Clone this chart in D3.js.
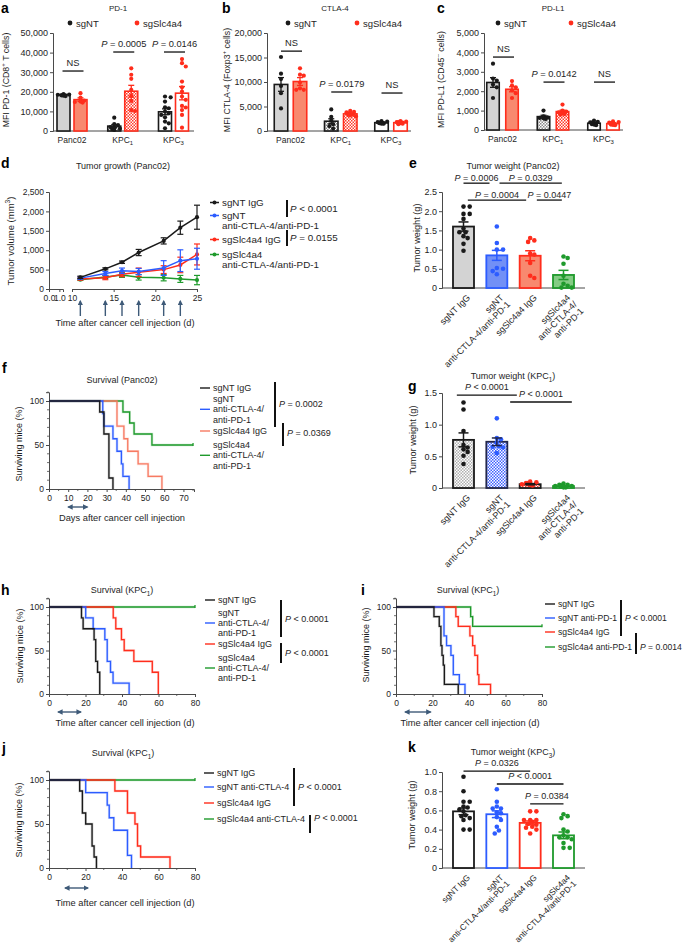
<!DOCTYPE html>
<html><head><meta charset="utf-8">
<script src="https://cdn.jsdelivr.net/npm/d3@7/dist/d3.min.js"></script>
<style>html,body{margin:0;padding:0;background:#fff}</style>
</head><body>
<svg id="fig" width="685" height="947" xmlns="http://www.w3.org/2000/svg"></svg>
<script>
// ================= DATA =================
const abcGroups = ["Panc02", "KPC1", "KPC3"];
const abcGroupLabels = ["Panc02", "KPC_{1}", "KPC_{3}"];
const seriesNames = ["sgNT", "sgSlc4a4"];

// a: PD-1
const a_ticks = [0, 10000, 20000, 30000, 40000, 50000];
const a_sgNT_mean = [18500, 2500, 9800];
const a_sgNT_sem = [400, 800, 1500];
const a_sgSlc_mean = [16000, 20300, 19300];
const a_sgSlc_sem = [900, 3000, 3400];
const a_sgNT_dots = [[18800, 18500, 18200, 17800, 18000, 18600], [6800, 3500, 3000, 2000, 1800, 1200, 1000, 500], [17600, 17200, 15000, 12100, 11600, 9900, 9000, 8200, 7000, 4800, 3900, 1400]];
const a_sgSlc_dots = [[19300, 17000, 15500, 15000, 14800, 14500], [32000, 28700, 26600, 21000, 17900, 15400, 10700, 10200], [36700, 34600, 32900, 25200, 22300, 20100, 17600, 15900, 12800, 12000, 10700, 8200, 1700]];
const a_sigText = ["NS", "*P* = 0.0005", "*P* = 0.0146"];
const a_sigLevel = [30600, 40300, 40300];

// b: CTLA-4
const b_ticks = [0, 5000, 10000, 15000, 20000];
const b_sgNT_mean = [9500, 2000, 1700];
const b_sgNT_sem = [1400, 500, 80];
const b_sgSlc_mean = [10100, 3500, 1700];
const b_sgSlc_sem = [800, 150, 80];
const b_sgNT_dots = [[15100, 11700, 10600, 9200, 7700, 4600], [4400, 2900, 2100, 1400, 1000, 500], [2000, 1900, 1800, 1700, 1700, 1600, 1500, 1500, 1600]];
const b_sgSlc_dots = [[12800, 11500, 11300, 9900, 8700, 8400, 8400], [4100, 3900, 3800, 3600, 3500, 3400, 3300, 3200, 3000], [2000, 1900, 1800, 1800, 1700, 1700, 1600, 1600, 1500, 1400]];
const b_sigText = ["NS", "*P* = 0.0179", "NS"];
const b_sigLevel = [16300, 7960, 7750];

// c: PD-L1
const c_ticks = [0, 1000, 2000, 3000, 4000, 5000];
const c_sgNT_mean = [2450, 690, 350];
const c_sgNT_sem = [250, 70, 25];
const c_sgSlc_mean = [2100, 950, 330];
const c_sgSlc_sem = [130, 70, 25];
const c_sgNT_dots = [[3420, 2650, 2550, 2340, 2200, 1650], [1000, 700, 650, 620, 600, 570], [480, 420, 400, 380, 350, 320, 300, 280, 250]];
const c_sgSlc_dots = [[2520, 2300, 2200, 2050, 1900, 1650], [1310, 1000, 950, 910, 860, 820, 790], [440, 410, 380, 350, 330, 300, 280, 260, 250]];
const c_sigText = ["NS", "*P* = 0.0142", "NS"];
const c_sigLevel = [3760, 2470, 2470];

// d: tumor growth
const d_days = [11, 14, 16, 18, 21, 23, 25];
const d_treatDays = [11, 14, 16, 18, 21, 23];
const d_yTicks = [0, 500, 1000, 1500, 2000, 2500];
const d_sgNT_IgG = [300, 520, 690, 940, 1240, 1580, 1850];
const d_sgNT_IgG_sem = [30, 25, 30, 80, 80, 170, 310];
const d_sgNT_aCP = [280, 400, 470, 450, 540, 730, 780];
const d_sgNT_aCP_sem = [30, 50, 70, 80, 190, 280, 270];
const d_sgSlc_IgG = [260, 290, 380, 430, 500, 620, 890];
const d_sgSlc_IgG_sem = [30, 50, 60, 110, 100, 200, 270];
const d_sgSlc_aCP = [240, 310, 360, 300, 290, 260, 230];
const d_sgSlc_aCP_sem = [20, 40, 60, 70, 80, 90, 120];

// e: tumor weight Panc02
const quadGroups = ["sgNT IgG", "sgNT\nanti-CTLA-4/anti-PD-1", "sgSlc4a4 IgG", "sgSlc4a4\nanti-CTLA-4/\nanti-PD-1"];
const kGroups = ["sgNT IgG", "sgNT\nanti-CTLA-4/anti-PD-1", "sgSlc4a4 IgG", "sgSlc4a4\nanti-CTLA-4/anti-PD-1"];
const e_ticks = [0, 0.5, 1.0, 1.5, 2.0, 2.5];
const e_mean = [1.6, 0.85, 0.84, 0.34];
const e_sem = [0.12, 0.13, 0.13, 0.12];
const e_dots = [[2.12, 2.12, 1.93, 1.93, 1.8, 1.55, 1.45, 1.45, 1.35, 1.3, 1.15, 0.97], [1.6, 1.17, 1.0, 1.0, 0.52, 0.5, 0.44, 0.36], [1.3, 1.24, 1.2, 0.9, 0.87, 0.65, 0.32, 0.26], [0.82, 0.78, 0.63, 0.32, 0.11, 0.06, 0.01, 0.01]];
const e_sig = [["*P* = 0.0006", 0.0, 0.78, 2.73], ["*P* = 0.0329", 1.08, 2.95, 2.73], ["*P* = 0.0004", 0.13, 1.88, 2.29], ["*P* = 0.0447", 2.2, 2.95, 2.29]];

// g: tumor weight KPC1
const g_ticks = [0, 0.5, 1.0, 1.5];
const g_mean = [0.76, 0.73, 0.06, 0.03];
const g_sem = [0.11, 0.06, 0.01, 0.01];
const g_dots = [[1.35, 1.24, 0.9, 0.68, 0.64, 0.61, 0.57, 0.51, 0.38], [1.1, 0.79, 0.77, 0.72, 0.66, 0.65, 0.64, 0.55], [0.1, 0.09, 0.08, 0.08, 0.07, 0.06, 0.06, 0.05, 0.04], [0.07, 0.05, 0.05, 0.04, 0.03, 0.03, 0.02, 0.01, 0.01]];
const g_sig = [["*P* < 0.0001", -0.2, 1.6, 1.468], ["*P* < 0.0001", 1.4, 3.25, 1.358]];

// k: tumor weight KPC3
const k_ticks = [0, 0.2, 0.4, 0.6, 0.8, 1.0];
const k_mean = [0.59, 0.56, 0.47, 0.34];
const k_sem = [0.035, 0.035, 0.02, 0.035];
const k_dots = [[0.95, 0.8, 0.69, 0.69, 0.64, 0.63, 0.61, 0.59, 0.55, 0.54, 0.52, 0.5, 0.4, 0.4], [0.82, 0.69, 0.64, 0.62, 0.62, 0.58, 0.57, 0.53, 0.5, 0.43, 0.39, 0.36], [0.59, 0.59, 0.5, 0.5, 0.5, 0.48, 0.46, 0.45, 0.43, 0.42, 0.4, 0.36], [0.56, 0.54, 0.52, 0.4, 0.38, 0.34, 0.32, 0.32, 0.3, 0.26, 0.21, 0.21]];
const k_sig = [["*P* = 0.0326", 0, 2, 1.01], ["*P* < 0.0001", 1, 3, 0.875], ["*P* = 0.0384", 2, 3, 0.667]];

// survival curves [day, % surviving]
const f_sgNT_IgG = [[0, 100], [26.4, 87.5], [28.6, 62.5], [31.2, 12.5], [33.3, 0]];
const f_sgNT_aCP = [[0, 100], [28, 85.7], [28.6, 71.4], [33.3, 57.1], [35.4, 42.9], [37.7, 28.6], [38.5, 14.3], [41.7, 0]];
const f_sgSlc_IgG = [[0, 100], [35.4, 71.4], [39, 57.1], [41, 42.9], [46.4, 28.6], [51.6, 14.3], [58.8, 0]];
const f_sgSlc_aCP = [[0, 100], [38.5, 87.5], [42, 75], [44.3, 62.5], [53.6, 50], [75, 50]];

const h_sgNT_IgG = [[0, 100], [17.8, 87.5], [18.7, 75], [24.7, 62.5], [25.6, 37.5], [26.6, 25], [27.8, 0]];
const h_sgNT_aCP = [[0, 100], [20.1, 87.5], [24.2, 75], [30.6, 62.5], [31.9, 37.5], [33.7, 25], [35.1, 12.5], [43.9, 0]];
const h_sgSlc_IgG = [[0, 100], [35.2, 87.5], [36.6, 75], [39.7, 62.5], [41.2, 50], [46.5, 37.5], [56.6, 25], [59.9, 0]];
const h_sgSlc_aCP = [[0, 100], [80, 100]];

const i_sgNT_IgG = [[0, 100], [20.8, 88.9], [23.7, 77.8], [24.6, 55.6], [25.2, 44.4], [25.9, 33.3], [26.5, 11.1], [34.1, 0]];
const i_sgNT_aPD1 = [[0, 100], [26.3, 66.7], [27.7, 55.6], [30.1, 44.4], [31.4, 22.2], [34.7, 11.1], [37.8, 0]];
const i_sgSlc_IgG = [[0, 100], [32.8, 88.9], [34.1, 77.8], [40.5, 66.7], [42, 55.6], [43.2, 44.4], [44.7, 22.2], [45.4, 11.1], [51.8, 0]];
const i_sgSlc_aPD1 = [[0, 100], [40.9, 88.9], [42, 77.8], [80, 77.8]];

const j_sgNT_IgG = [[0, 100], [16.8, 87.5], [18.3, 62.5], [20.1, 50], [23.6, 25], [24.7, 12.5], [26, 0]];
const j_sgNT_aCTLA4 = [[0, 100], [20.1, 85.7], [31.9, 71.4], [33, 57.1], [35.5, 42.9], [43, 14.3], [45.2, 0]];
const j_sgSlc_IgG = [[0, 100], [36.1, 87.5], [43, 62.5], [47.1, 50], [48.5, 25], [50.2, 12.5], [66.3, 0]];
const j_sgSlc_aCTLA4 = [[0, 100], [80, 100]];

// ================= DRAWING =================
const FONT = "'Liberation Sans', Arial, Helvetica, sans-serif";
const TXT = "#1e1e1e", AX = "#4a4a4a";
const COL = { black: "#1a1a1a", red: "#ff2d1c", blue: "#2c5cff", green: "#1f9a2c", grey: "#d3d3d3", salmon: "#f8896f", blueFill: "#7290f6", greenFill: "#84cc84", salmonLine: "#f77a62", arrow: "#3e5a78" };
const svg = d3.select("#fig").attr("font-family", FONT);
const defs = svg.append("defs");
function checker(id, color, s) {
  const p = defs.append("pattern").attr("id", id).attr("width", s).attr("height", s).attr("patternUnits", "userSpaceOnUse");
  p.append("rect").attr("width", s).attr("height", s).attr("fill", "#fff");
  p.append("rect").attr("width", s / 2).attr("height", s / 2).attr("fill", color);
  p.append("rect").attr("x", s / 2).attr("y", s / 2).attr("width", s / 2).attr("height", s / 2).attr("fill", color);
}
checker("chkGrey", "#8c8c8c", 3);
checker("chkRed", "#ff3b2b", 3);
checker("chkBlue", "#3f62ff", 3);
checker("chkGreyL", "#b0b0b0", 3);
defs.append("marker").attr("id", "ah").attr("viewBox", "0 0 10 10").attr("refX", 8).attr("refY", 5)
  .attr("markerWidth", 4).attr("markerHeight", 4).attr("orient", "auto-start-reverse")
  .append("path").attr("d", "M0,0L10,5L0,10z").attr("fill", COL.arrow);

function rich(t, s, size) {
  const parts = s.split(/(\^\{[^}]*\}|_\{[^}]*\}|\*[^*]+\*)/).filter(p => p !== "");
  let shift = 0;
  parts.forEach(p => {
    let text = p, target = 0, fs = null, it = false;
    if (p.startsWith("^{")) { text = p.slice(2, -1); target = -size * 0.4; fs = size * 0.7; }
    else if (p.startsWith("_{")) { text = p.slice(2, -1); target = size * 0.28; fs = size * 0.7; }
    else if (p.length > 2 && p.startsWith("*") && p.endsWith("*")) { text = p.slice(1, -1); it = true; }
    const ts = t.append("tspan");
    if (target - shift !== 0) ts.attr("dy", target - shift);
    shift = target;
    if (fs) ts.attr("font-size", fs);
    if (it) ts.attr("font-style", "italic");
    ts.text(text);
  });
}
function label(parent, x, y, s, o = {}) {
  const size = o.size || 9;
  const t = parent.append("text").attr("x", x).attr("y", y).attr("font-size", size)
    .attr("fill", o.fill || TXT).attr("text-anchor", o.anchor || "start");
  if (o.weight) t.attr("font-weight", o.weight);
  if (o.rotate) t.attr("transform", `rotate(${o.rotate},${x},${y})`);
  rich(t, s, size);
  return t;
}
function styleAxis(a, fs) {
  a.attr("font-family", FONT);
  a.selectAll("path.domain").attr("stroke", AX).attr("stroke-width", 1);
  a.selectAll(".tick line").attr("stroke", AX).attr("stroke-width", 1);
  a.selectAll(".tick text").attr("font-size", fs).attr("fill", TXT);
}
function yAxis(g, scale, x, ticks, fmt, fs, size = 3) {
  const a = g.append("g").attr("transform", `translate(${x},0)`)
    .call(d3.axisLeft(scale).tickValues(ticks).tickFormat(fmt).tickSizeOuter(0).tickSize(size).tickPadding(2));
  styleAxis(a, fs);
  return a;
}
function hline(g, x1, x2, y, color = AX, w = 1) {
  g.append("line").attr("x1", x1).attr("x2", x2).attr("y1", y).attr("y2", y).attr("stroke", color).attr("stroke-width", w);
}
function vline(g, x, y1, y2, color = "#111", w = 2) {
  g.append("line").attr("x1", x).attr("x2", x).attr("y1", y1).attr("y2", y2).attr("stroke", color).attr("stroke-width", w);
}
function errBar(g, cx, yLo, yHi, cap, color, w = 1.3) {
  vline(g, cx, yLo, yHi, color, w);
  hline(g, cx - cap / 2, cx + cap / 2, yLo, color, w);
  hline(g, cx - cap / 2, cx + cap / 2, yHi, color, w);
}
function swarm(vals, cx, yScale, r, maxOff) {
  const pts = vals.map(v => ({ v, y: yScale(v) })).sort((a, b) => a.y - b.y);
  const placed = [];
  pts.forEach(p => {
    let bx = null;
    for (let k = 0; k < 30; k++) {
      const off = k === 0 ? 0 : (k % 2 ? 1 : -1) * Math.ceil(k / 2) * r * 0.9;
      if (Math.abs(off) > maxOff) continue;
      const xx = cx + off;
      if (placed.every(q => Math.hypot(q.x - xx, q.y - p.y) >= 2 * r * 0.92)) { bx = xx; break; }
    }
    if (bx === null) bx = cx + ((placed.length % 3) - 1) * r;
    p.x = bx; placed.push(p);
  });
  return pts;
}
const fmtComma = d3.format(",");
const fmtDec = v => v === 0 ? "0" : d3.format(".1f")(v);

// ---------- panel letters ----------
[["a", 1, 13], ["b", 222, 13], ["c", 437, 13], ["d", 1, 168], ["e", 409, 168], ["f", 2, 373], ["g", 408, 391],
 ["h", 1, 595], ["i", 361, 595], ["j", 2, 753], ["k", 408, 752]].forEach(([t, x, y]) =>
  svg.append("text").attr("x", x).attr("y", y).attr("font-size", 14).attr("font-weight", "bold").attr("fill", "#000").text(t));

// ---------- a, b, c ----------
function pairPanel(c) {
  const g = svg.append("g");
  const y = d3.scaleLinear().domain([0, c.max]).range([c.y0, c.yTop]);
  const x = d3.scalePoint().domain(abcGroups).range(c.centers);
  yAxis(g, y, c.x0, c.ticks, fmtComma, 9);
  hline(g, c.x0, c.x1, c.y0);
  abcGroups.forEach((k, i) => label(g, x(k), c.y0 + 12, abcGroupLabels[i], { anchor: "middle", size: 8.5 }));
  label(g, c.titleX, 11, c.title, { anchor: "middle", size: 8 });
  [[c.leg[0], COL.black, seriesNames[0]], [c.leg[1], COL.red, seriesNames[1]]].forEach(([lx, col, nm]) => {
    g.append("circle").attr("cx", lx).attr("cy", 23).attr("r", 2.4).attr("fill", col);
    label(g, lx + 6, 26.5, nm, { size: 9.5 });
  });
  label(g, c.ylabX, (c.y0 + c.yTop) / 2 - 2, c.ylab, { anchor: "middle", rotate: -90, size: 8.8 });
  c.series.forEach((s, si) => {
    const off = si === 0 ? -c.off : c.off;
    abcGroups.forEach((k, i) => {
      const cx = x(k) + off, m = s.mean[i];
      g.append("rect").attr("x", cx - c.bw / 2).attr("width", c.bw).attr("y", y(m)).attr("height", y(0) - y(m))
        .attr("fill", s.fills[i]).attr("stroke", s.stroke).attr("stroke-width", 1.6);
      swarm(s.dots[i], cx, y, 2.1, c.bw / 2).forEach(p =>
        g.append("circle").attr("cx", p.x).attr("cy", p.y).attr("r", 2.1).attr("fill", s.dot));
      errBar(g, cx, y(m - s.sem[i]), y(m + s.sem[i]), 6, s.stroke, 1.3);
    });
  });
  abcGroups.forEach((k, i) => {
    const ly = y(c.sigLevel[i]), cx = x(k) + 1;
    hline(g, cx - 10.5, cx + 10.5, ly, "#111", 1.3);
    label(g, cx, ly - 5, c.sigText[i], { anchor: "middle", size: 9.3 });
  });
}
pairPanel({
  x0: 53, x1: 194, y0: 131, yTop: 33, max: 50000, ticks: a_ticks, centers: [72, 173.5], off: 8.5, bw: 13,
  title: "PD-1", titleX: 118, leg: [70, 137], ylab: "MFI PD-1 (CD8^{+} T cells)", ylabX: 9,
  sigText: a_sigText, sigLevel: a_sigLevel,
  series: [
    { mean: a_sgNT_mean, sem: a_sgNT_sem, dots: a_sgNT_dots, fills: [COL.grey, "url(#chkGrey)", "#fff"], stroke: COL.black, dot: COL.black },
    { mean: a_sgSlc_mean, sem: a_sgSlc_sem, dots: a_sgSlc_dots, fills: [COL.salmon, "url(#chkRed)", "#fff"], stroke: COL.red, dot: COL.red }]
});
pairPanel({
  x0: 267, x1: 411, y0: 131, yTop: 33, max: 20000, ticks: b_ticks, centers: [290.5, 391], off: 9.5, bw: 13.5,
  title: "CTLA-4", titleX: 335, leg: [288, 357], ylab: "MFI CTLA-4 (Foxp3^{+} cells)", ylabX: 230,
  sigText: b_sigText, sigLevel: b_sigLevel,
  series: [
    { mean: b_sgNT_mean, sem: b_sgNT_sem, dots: b_sgNT_dots, fills: [COL.grey, "url(#chkGrey)", "#fff"], stroke: COL.black, dot: COL.black },
    { mean: b_sgSlc_mean, sem: b_sgSlc_sem, dots: b_sgSlc_dots, fills: [COL.salmon, "url(#chkRed)", "#fff"], stroke: COL.red, dot: COL.red }]
});
pairPanel({
  x0: 484, x1: 623, y0: 130, yTop: 33, max: 5000, ticks: c_ticks, centers: [502.5, 603.5], off: 9.5, bw: 12.5,
  title: "PD-L1", titleX: 553, leg: [498, 571], ylab: "MFI PD-L1 (CD45^{–} cells)", ylabX: 444,
  sigText: c_sigText, sigLevel: c_sigLevel,
  series: [
    { mean: c_sgNT_mean, sem: c_sgNT_sem, dots: c_sgNT_dots, fills: [COL.grey, "url(#chkGrey)", "#fff"], stroke: COL.black, dot: COL.black },
    { mean: c_sgSlc_mean, sem: c_sgSlc_sem, dots: c_sgSlc_dots, fills: [COL.salmon, "url(#chkRed)", "#fff"], stroke: COL.red, dot: COL.red }]
});

// ---------- d ----------
(function () {
  const g = svg.append("g");
  const y = d3.scaleLinear().domain([0, 2500]).range([289, 192]);
  const x1 = d3.scaleLinear().domain([0, 1.35]).range([49, 63]);
  const x2 = d3.scaleLinear().domain([10, 25]).range([72, 197]);
  yAxis(g, y, 49, d_yTicks, fmtComma, 8.5);
  const a1 = g.append("g").attr("transform", "translate(0,289)").call(d3.axisBottom(x1).tickValues([0, 1]).tickSizeOuter(0).tickSize(3).tickPadding(3));
  styleAxis(a1, 8.5);
  const a2 = g.append("g").attr("transform", "translate(0,289)").call(d3.axisBottom(x2).tickValues([10, 15, 20, 25]).tickSizeOuter(0).tickSize(3).tickPadding(3));
  styleAxis(a2, 8.5);
  label(g, 123, 169, "Tumor growth (Panc02)", { anchor: "middle", size: 9 });
  label(g, 14, 241, "Tumor volume (mm^{3})", { anchor: "middle", rotate: -90, size: 9.5 });
  label(g, 125, 326, "Time after cancer cell injection (d)", { anchor: "middle", size: 9.3 });
  d_treatDays.forEach(dd => g.append("line").attr("x1", x2(dd)).attr("x2", x2(dd)).attr("y1", 316).attr("y2", 301)
    .attr("stroke", COL.arrow).attr("stroke-width", 1.4).attr("marker-end", "url(#ah)"));
  const series = [
    [d_sgSlc_aCP, d_sgSlc_aCP_sem, COL.green],
    [d_sgSlc_IgG, d_sgSlc_IgG_sem, COL.red],
    [d_sgNT_aCP, d_sgNT_aCP_sem, COL.blue],
    [d_sgNT_IgG, d_sgNT_IgG_sem, COL.black]];
  const line = d3.line().x((d, i) => x2(d_days[i])).y(d => y(d));
  series.forEach(([vals, sems, col]) => {
    g.append("path").attr("d", line(vals)).attr("fill", "none").attr("stroke", col).attr("stroke-width", 1.5);
    vals.forEach((v, i) => {
      errBar(g, x2(d_days[i]), y(v - sems[i]), y(v + sems[i]), 6, col, 1.2);
      g.append("circle").attr("cx", x2(d_days[i])).attr("cy", y(v)).attr("r", 2.1).attr("fill", col);
    });
  });
  const leg = [[206, COL.black, ["sgNT IgG"]], [219, COL.blue, ["sgNT", "anti-CTLA-4/anti-PD-1"]],
               [243, COL.red, ["sgSlc4a4 IgG"]], [258, COL.green, ["sgSlc4a4", "anti-CTLA-4/anti-PD-1"]]];
  leg.forEach(([by, col, lines]) => {
    hline(g, 210, 219, by - 3.5, col, 1.5);
    g.append("circle").attr("cx", 214.5).attr("cy", by - 3.5).attr("r", 2).attr("fill", col);
    lines.forEach((t, i) => label(g, 222, by + i * 10, t, { size: 9.8 }));
  });
  vline(g, 287, 200, 217, "#111", 2);
  label(g, 290, 212, "*P* < 0.0001", { size: 9.8 });
  vline(g, 287, 230, 246, "#111", 2);
  label(g, 290, 241, "*P* = 0.0155", { size: 9.8 });
})();

// ---------- e, g, k ----------
function quadPanel(c) {
  const g = svg.append("g");
  const y = d3.scaleLinear().domain([0, c.max]).range([c.y0, c.yTop]);
  const x = d3.scalePoint().domain(c.groups).range([463.5, 563.5]);
  const xf = d3.scaleLinear().domain([0, 3]).range([463.5, 563.5]);
  yAxis(g, y, 442, c.ticks, fmtDec, 9);
  hline(g, 442, 585, c.y0);
  label(g, 513, c.titleY, c.title, { anchor: "middle", size: 9 });
  label(g, c.ylabX, c.ylabY, "Tumor weight (g)", { anchor: "middle", rotate: -90, size: 9.2 });
  c.groups.forEach((k, i) => {
    const cx = x(k), m = c.mean[i];
    g.append("rect").attr("x", cx - 10.5).attr("width", 21).attr("y", y(m)).attr("height", y(0) - y(m))
      .attr("fill", c.fills[i]).attr("stroke", c.strokes[i]).attr("stroke-width", 1.8);
    swarm(c.dots[i], cx, y, 2.3, 9).forEach(p =>
      g.append("circle").attr("cx", p.x).attr("cy", p.y).attr("r", 2.3).attr("fill", c.dotCols[i]));
    errBar(g, cx, y(m - c.sem[i]), y(m + c.sem[i]), 10, c.errCols[i], 1.5);
    const lines = k.split("\n");
    const lg = g.append("g").attr("transform", `translate(${cx + 5},${c.y0 + 8}) rotate(-45)`);
    lines.forEach((ln, li) => lg.append("text").attr("x", 0).attr("y", li * c.labLH).attr("dy", "0.35em")
      .attr("text-anchor", "end").attr("font-size", c.labFs).attr("fill", TXT).text(ln));
  });
  c.sig.forEach(([t, a, b, lv]) => {
    const ly = y(lv);
    hline(g, xf(a), xf(b), ly, "#111", 1.3);
    label(g, (xf(a) + xf(b)) / 2, ly - c.sigOff, t, { anchor: "middle", size: 9 });
  });
}
quadPanel({
  groups: quadGroups, max: 2.5, y0: 288, yTop: 192, ticks: e_ticks, mean: e_mean, sem: e_sem, dots: e_dots, sig: e_sig, sigOff: 2.5,
  title: "Tumor weight (Panc02)", titleY: 169, ylabX: 420, ylabY: 238, labFs: 9, labLH: 9.5,
  fills: [COL.grey, COL.blueFill, COL.salmon, COL.greenFill], strokes: [COL.black, COL.blue, COL.red, COL.green],
  dotCols: [COL.black, COL.blue, COL.red, COL.green], errCols: [COL.black, COL.blue, COL.red, COL.green]
});
quadPanel({
  groups: quadGroups, max: 1.5, y0: 488, yTop: 393, ticks: g_ticks, mean: g_mean, sem: g_sem, dots: g_dots, sig: g_sig, sigOff: 5,
  title: "Tumor weight (KPC_{1})", titleY: 379, ylabX: 416, ylabY: 440, labFs: 9, labLH: 9.5,
  fills: ["url(#chkGreyL)", "url(#chkBlue)", "url(#chkRed)", "#fff"], strokes: [COL.black, "#22264a", COL.black, COL.green],
  dotCols: [COL.black, COL.blue, COL.red, COL.green], errCols: [COL.black, "#22264a", COL.black, COL.green]
});
quadPanel({
  groups: kGroups, max: 1.0, y0: 868, yTop: 772, ticks: k_ticks, mean: k_mean, sem: k_sem, dots: k_dots, sig: k_sig, sigOff: 5,
  title: "Tumor weight (KPC_{3})", titleY: 755, ylabX: 415, ylabY: 815, labFs: 8.4, labLH: 8.8,
  fills: ["#fff", "#fff", "#fff", "#fff"], strokes: [COL.black, COL.blue, COL.red, COL.green],
  dotCols: [COL.black, COL.blue, COL.red, COL.green], errCols: [COL.black, COL.blue, COL.red, COL.green]
});

// ---------- survival panels ----------
function survival(c) {
  const g = svg.append("g");
  const x = d3.scaleLinear().domain([0, c.xMax]).range([c.x0, c.x1]);
  const y = d3.scaleLinear().domain([0, 110]).range([c.y0, c.y0 - (c.y0 - c.y100) * 1.1]);
  yAxis(g, y, c.x0, [0, 50, 100], d3.format("d"), 8.5, 3);
  d3.range(10, 111, 10).filter(v => v % 50).forEach(v => hline(g, c.x0 - 2, c.x0, y(v), AX, 0.8));
  const ax = g.append("g").attr("transform", `translate(0,${c.y0})`)
    .call(d3.axisBottom(x).tickValues(c.xTicks).tickFormat(d3.format("d")).tickSizeOuter(0).tickSize(3).tickPadding(3));
  styleAxis(ax, 8.5);
  c.xMinor.forEach(v => vline(g, x(v), c.y0, c.y0 + 2, AX, 0.8));
  label(g, c.titleX, c.titleY, c.title, { anchor: "middle", size: 9 });
  label(g, c.ylabX, c.ylabY, "Surviving mice (%)", { anchor: "middle", rotate: -90, size: 9 });
  label(g, c.xlabX, c.xlabY, c.xlab, { anchor: "middle", size: 9.3 });
  g.append("line").attr("x1", x(c.arrow[0])).attr("x2", x(c.arrow[1])).attr("y1", c.arrowY).attr("y2", c.arrowY)
    .attr("stroke", COL.arrow).attr("stroke-width", 1.4).attr("marker-start", "url(#ah)").attr("marker-end", "url(#ah)");
  const line = d3.line().x(d => x(d[0])).y(d => y(d[1])).curve(d3.curveStepAfter);
  c.curves.slice().reverse().forEach(([pts, col]) => {
    g.append("path").attr("d", line(pts)).attr("fill", "none").attr("stroke", col).attr("stroke-width", 2.6).attr("opacity", 0.22);
    g.append("path").attr("d", line(pts)).attr("fill", "none").attr("stroke", col).attr("stroke-width", 1.3);
    const last = pts[pts.length - 1];
    if (last[1] > 0) vline(g, x(last[0]), y(last[1]) - 2, y(last[1]) + 1, col, 1.3);
  });
  c.legend.forEach(([by, col, lines, lineIdx]) => {
    lines.forEach((t, i) => label(g, c.legX + 13, by + i * c.legLH, t, { size: c.legFs || 9 }));
    if (col) hline(g, c.legX, c.legX + 10, by + lineIdx * c.legLH - 3, col, 1.4);
  });
  c.brackets.forEach(([bx, y1, y2, t, ty]) => {
    vline(g, bx, y1, y2, "#111", 2);
    label(g, bx + 4, ty, t, { size: c.pFs || 9 });
  });
}
survival({
  x0: 49, x1: 194, xMax: 75.5, y0: 489, y100: 401, xTicks: d3.range(0, 71, 10), xMinor: d3.range(5, 76, 10),
  title: "Survival (Panc02)", titleX: 122, titleY: 383, ylabX: 22, ylabY: 444,
  xlab: "Days  after cancer cell injection", xlabX: 122, xlabY: 521, arrow: [10, 20], arrowY: 507,
  curves: [[f_sgNT_IgG, COL.black], [f_sgNT_aCP, COL.blue], [f_sgSlc_IgG, COL.salmonLine], [f_sgSlc_aCP, COL.green]],
  legX: 200, legLH: 10.3,
  legend: [[391, COL.black, ["sgNT IgG"], 0], [402, COL.blue, ["sgNT", "anti-CTLA-4/", "anti-PD-1"], 1],
           [434, COL.salmonLine, ["sgSlc4a4 IgG"], 0], [448, COL.green, ["sgSlc4a4", "anti-CTLA-4/", "anti-PD-1"], 1]],
  brackets: [[275, 382, 427, "*P* = 0.0002", 407], [283, 423, 446, "*P* = 0.0369", 436]]
});
survival({
  x0: 49, x1: 195, xMax: 80, y0: 694, y100: 607, xTicks: [0, 20, 40, 60, 80], xMinor: [10, 30, 50, 70],
  title: "Survival (KPC_{1})", titleX: 122, titleY: 593, ylabX: 23, ylabY: 646,
  xlab: "Time after cancer cell injection (d)", xlabX: 125, xlabY: 726, arrow: [5, 17.5], arrowY: 712,
  curves: [[h_sgNT_IgG, COL.black], [h_sgNT_aCP, COL.blue], [h_sgSlc_IgG, COL.red], [h_sgSlc_aCP, COL.green]],
  legX: 205, legLH: 10,
  legend: [[603, COL.black, ["sgNT IgG"], 0], [616, COL.blue, ["sgNT", "anti-CTLA-4/", "anti-PD-1"], 1],
           [647, COL.red, ["sgSlc4a4 IgG"], 0], [661, COL.green, ["sgSlc4a4", "anti-CTLA-4/", "anti-PD-1"], 1]],
  brackets: [[281, 600, 637, "*P* < 0.0001", 622], [281, 643, 663, "*P* < 0.0001", 656]]
});
survival({
  x0: 396, x1: 542, xMax: 80, y0: 694, y100: 607, xTicks: [0, 20, 40, 60, 80], xMinor: [10, 30, 50, 70],
  title: "Survival (KPC_{1})", titleX: 468, titleY: 593, ylabX: 369, ylabY: 645,
  xlab: "Time after cancer cell injection (d)", xlabX: 470, xlabY: 726, arrow: [5, 19], arrowY: 712,
  curves: [[i_sgNT_IgG, COL.black], [i_sgNT_aPD1, COL.blue], [i_sgSlc_IgG, COL.red], [i_sgSlc_aPD1, COL.green]],
  legX: 545, legLH: 10, legFs: 8.6, pFs: 8.6,
  legend: [[607, COL.black, ["sgNT IgG"], 0], [621, COL.blue, ["sgNT anti-PD-1"], 0],
           [635, COL.red, ["sgSlc4a4 IgG"], 0], [650, COL.green, ["sgSlc4a4 anti-PD-1"], 0]],
  brackets: [[621, 600, 636, "*P* < 0.0001", 621], [636, 633, 654, "*P* = 0.0014", 650]]
});
survival({
  x0: 49, x1: 195, xMax: 80, y0: 868, y100: 780, xTicks: [0, 20, 40, 60, 80], xMinor: [10, 30, 50, 70],
  title: "Survival (KPC_{1})", titleX: 123, titleY: 756, ylabX: 22, ylabY: 820,
  xlab: "Time after cancer cell injection (d)", xlabX: 125, xlabY: 906, arrow: [8.8, 21.4], arrowY: 888,
  curves: [[j_sgNT_IgG, COL.black], [j_sgNT_aCTLA4, COL.blue], [j_sgSlc_IgG, COL.red], [j_sgSlc_aCTLA4, COL.green]],
  legX: 204, legLH: 10,
  legend: [[776, COL.black, ["sgNT IgG"], 0], [790, COL.blue, ["sgNT anti-CTLA-4"], 0],
           [806, COL.red, ["sgSlc4a4 IgG"], 0], [822, COL.green, ["sgSlc4a4 anti-CTLA-4"], 0]],
  brackets: [[294, 768, 806, "*P* < 0.0001", 790], [310, 815, 833, "*P* < 0.0001", 821]]
});
</script>
</body></html>
